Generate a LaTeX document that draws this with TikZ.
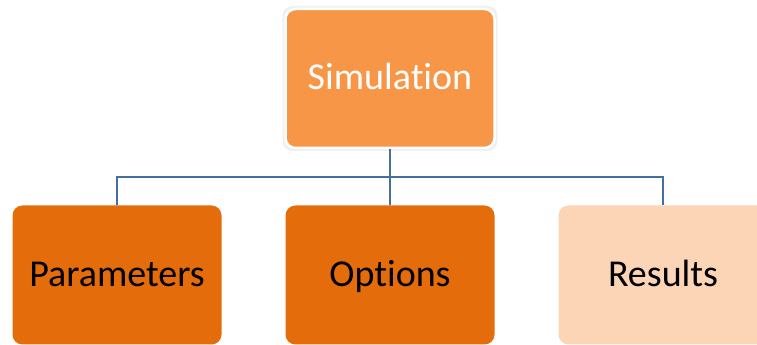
\documentclass[tikz,border=0pt]{standalone}
\usepackage{fontspec}
\setmainfont{Carlito}[Ligatures={NoCommon}]
\definecolor{headfill}{HTML}{F79646}
\definecolor{darkfill}{HTML}{E46C0A}
\definecolor{lightfill}{HTML}{FBD5B5}
\definecolor{linkblue}{HTML}{44709F}
\begin{document}
\begin{tikzpicture}[x=1pt,y=1pt,
  box/.style={rectangle, rounded corners=10pt, minimum width=209pt, minimum height=139pt,
    inner sep=0pt, text height=25pt, text depth=2pt, font=\fontsize{38}{40}\selectfont},
  link/.style={draw=linkblue, line width=2.4pt}]
\useasboundingbox (0,0) rectangle (757,345);
\clip (0,0) rectangle (757,345);
\fill[white] (0,0) rectangle (757,345);
% head box with its white rim
\node[box, fill=black!6, minimum width=215pt, minimum height=145pt] (rim) at (390,266.5) {};
\node[box, fill=headfill, draw=white, line width=2.5pt, text=white] (sim) at (390,266.5) {Simulation};
% child boxes
\node[box, fill=darkfill] (par) at (117,70) {Parameters};
\node[box, fill=darkfill] (opt) at (390,70) {Options};
\node[box, fill=lightfill] (res) at (663,70) {Results};
% connectors
\coordinate (bus) at (390,168);
\draw[link] (sim.south) -- (bus);
\draw[link] (par.north) |- (bus) -| (res.north);
\draw[link] (opt.north) -- (bus);
\end{tikzpicture}
\end{document}
